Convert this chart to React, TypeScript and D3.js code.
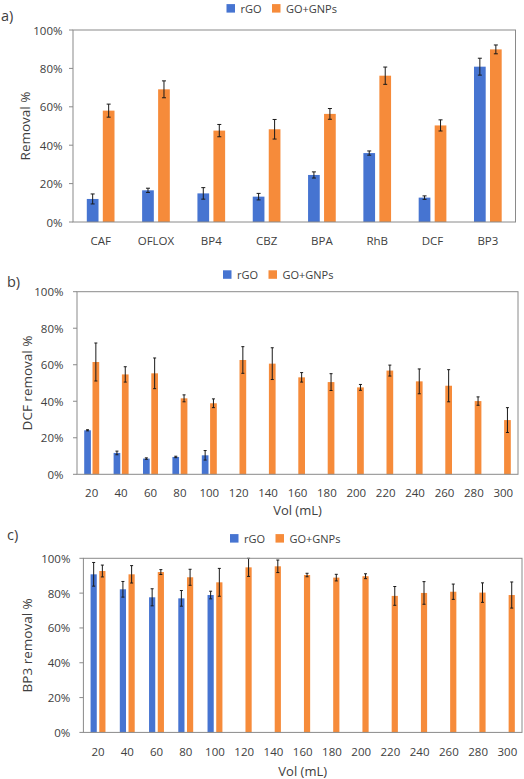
import React from "react";
import * as d3 from "d3";

// ---------- Data ----------
const catsA = ["CAF", "OFLOX", "BP4", "CBZ", "BPA", "RhB", "DCF", "BP3"];
const rgoA = [12.0, 16.5, 14.9, 13.2, 24.5, 35.9, 12.7, 80.9];
const rgoAErr = [2.6, 1.1, 3.0, 1.7, 1.6, 1.1, 0.9, 4.4];
const gnpA = [58.0, 69.1, 47.6, 48.3, 56.3, 76.2, 50.3, 89.9];
const gnpAErr = [3.4, 4.4, 3.2, 5.1, 2.8, 4.5, 2.9, 2.3];

const vols = ["20", "40", "60", "80", "100", "120", "140", "160", "180", "200", "220", "240", "260", "280", "300"];

const rgoB = [24.1, 11.7, 8.6, 9.5, 10.4];
const rgoBErr = [0.3, 1.0, 0.4, 0.4, 2.6];
const gnpB = [61.5, 54.7, 55.3, 41.6, 38.9, 62.6, 60.6, 53.1, 50.5, 47.6, 56.8, 50.9, 48.5, 40.1, 29.7];
const gnpBErr = [10.4, 4.2, 8.4, 1.9, 2.4, 7.3, 8.7, 2.6, 4.6, 1.6, 3.0, 6.8, 8.8, 2.3, 6.8];

const rgoC = [90.8, 82.2, 77.6, 77.0, 78.9];
const rgoCErr = [6.8, 4.5, 4.9, 4.5, 2.2];
const gnpC = [92.7, 90.8, 92.1, 89.1, 86.2, 94.8, 95.4, 90.4, 88.9, 89.7, 78.4, 80.1, 80.8, 80.3, 78.9];
const gnpCErr = [3.4, 5.0, 1.4, 4.6, 8.0, 5.2, 3.6, 1.0, 1.9, 1.4, 5.4, 6.5, 4.4, 5.6, 7.5];

const yTicks = [0, 20, 40, 60, 80, 100];
const seriesNames = ["rGO", "GO+GNPs"];

// ---------- Style ----------
const BLUE = "#4674D1";
const ORANGE = "#F68B3A";
const TEXT = "#404040";
const AXIS = "#8a8a8a";
const FONT = "'Open Sans', 'Liberation Sans', sans-serif";

type PanelProps = {
  tag: string;
  tagX: number;
  tagY: number;
  legendX: number;
  legendY: number;
  x0: number;
  x1: number;
  yZero: number;
  yFull: number;
  barW: number;
  gap: number;
  cats: string[];
  blue: number[];
  blueErr: number[];
  orange: number[];
  orangeErr: number[];
  yTitle: string;
  yTitleX: number;
  tickOffset: number;
  xLabelY: number;
  xTitle?: string;
  xTitleY?: number;
  capW: number;
};

function Panel(p: PanelProps) {
  const x = d3.scaleBand<string>().domain(p.cats).range([p.x0, p.x1]).padding(0);
  const y = d3.scaleLinear().domain([0, 100]).range([p.yZero, p.yFull]);
  const center = (c: string) => (x(c) as number) + x.bandwidth() / 2;

  const errBar = (cx: number, v: number, e: number, key: string) => {
    const top = y(Math.min(v + e, 100.3));
    const bot = y(v - e);
    return (
      <g key={key} stroke="#1a1a1a" strokeWidth={1}>
        <line x1={cx} x2={cx} y1={top} y2={bot} />
        <line x1={cx - p.capW / 2} x2={cx + p.capW / 2} y1={top} y2={top} />
        <line x1={cx - p.capW / 2} x2={cx + p.capW / 2} y1={bot} y2={bot} />
      </g>
    );
  };

  const plotMid = (p.yZero + p.yFull) / 2;
  const legendColors = [BLUE, ORANGE];
  const legendOffsets = [0, 45.5];

  return (
    <g fontFamily={FONT}>
      <text x={p.tagX} y={p.tagY} fontSize={14.5} fill={TEXT} dominantBaseline="central">
        {p.tag}
      </text>
      {/* legend */}
      {seriesNames.map((s, i) => (
        <g key={s} transform={`translate(${p.legendX + legendOffsets[i]},${p.legendY})`}>
          <rect x={0} y={-4.2} width={8.5} height={8.5} fill={legendColors[i]} />
          <text x={14} y={0} fontSize={11} fill={TEXT} dominantBaseline="central">
            {s}
          </text>
        </g>
      ))}
      {/* bars */}
      {p.cats.map((c, i) => {
        const cx = center(c);
        const out: any[] = [];
        if (i < p.blue.length) {
          const bx = cx - p.gap / 2 - p.barW;
          out.push(
            <rect key={"b" + c} x={bx} y={y(p.blue[i])} width={p.barW} height={y(0) - y(p.blue[i])} fill={BLUE} />
          );
        }
        if (i < p.orange.length) {
          const ox = cx + p.gap / 2;
          out.push(
            <rect key={"o" + c} x={ox} y={y(p.orange[i])} width={p.barW} height={y(0) - y(p.orange[i])} fill={ORANGE} />
          );
        }
        return <g key={c}>{out}</g>;
      })}
      {p.cats.map((c, i) => {
        const cx = center(c);
        const out: any[] = [];
        if (i < p.blue.length) out.push(errBar(cx - p.gap / 2 - p.barW / 2, p.blue[i], p.blueErr[i], "eb" + c));
        if (i < p.orange.length) out.push(errBar(cx + p.gap / 2 + p.barW / 2, p.orange[i], p.orangeErr[i], "eo" + c));
        return <g key={"e" + c}>{out}</g>;
      })}
      {/* frame */}
      <rect
        x={p.x0}
        y={p.yFull}
        width={p.x1 - p.x0}
        height={p.yZero - p.yFull}
        fill="none"
        stroke={AXIS}
        strokeWidth={1}
      />
      {/* y ticks */}
      {yTicks.map((t) => (
        <g key={t}>
          <line x1={p.x0 - 4} x2={p.x0} y1={y(t)} y2={y(t)} stroke={AXIS} />
          <text
            x={p.x0 - p.tickOffset}
            y={y(t)}
            fontSize={11.5}
            fill={TEXT}
            textAnchor="end"
            dominantBaseline="central"
          >
            {t + "%"}
          </text>
        </g>
      ))}
      {/* x labels */}
      {p.cats.map((c) => (
        <text key={"xl" + c} x={center(c)} y={p.xLabelY} fontSize={11.5} fill={TEXT} textAnchor="middle" dominantBaseline="central">
          {c}
        </text>
      ))}
      <text
        transform={`translate(${p.yTitleX},${plotMid}) rotate(-90)`}
        fontSize={13.5}
        fill={TEXT}
        textAnchor="middle"
        dominantBaseline="central"
      >
        {p.yTitle}
      </text>
      {p.xTitle && (
        <text
          x={(p.x0 + p.x1) / 2}
          y={p.xTitleY}
          fontSize={13}
          fill={TEXT}
          textAnchor="middle"
          dominantBaseline="central"
        >
          {p.xTitle}
        </text>
      )}
    </g>
  );
}

export default function App() {
  return (
    <svg
      width={524}
      height={779}
      viewBox="0 0 524 779"
      style={{ position: "absolute", left: 0, top: 0, background: "#fff" }}
    >
      <rect x={0} y={0} width={524} height={779} fill="#fff" />
      <Panel
        tag="a)"
        tagX={1}
        tagY={15}
        legendX={226.5}
        legendY={8.3}
        x0={73}
        x1={515.5}
        yZero={222}
        yFull={30}
        barW={11.7}
        gap={4.3}
        cats={catsA}
        blue={rgoA}
        blueErr={rgoAErr}
        orange={gnpA}
        orangeErr={gnpAErr}
        yTitle="Removal %"
        yTitleX={25}
        tickOffset={10.5}
        xLabelY={240}
        capW={4}
      />
      <Panel
        tag="b)"
        tagX={7}
        tagY={281}
        legendX={223}
        legendY={274.5}
        x0={77}
        x1={518}
        yZero={474.3}
        yFull={291.7}
        barW={6.7}
        gap={1.6}
        cats={vols}
        blue={rgoB}
        blueErr={rgoBErr}
        orange={gnpB}
        orangeErr={gnpBErr}
        yTitle="DCF removal %"
        yTitleX={27}
        tickOffset={13.5}
        xLabelY={492.3}
        xTitle="Vol (mL)"
        xTitleY={510}
        capW={3}
      />
      <Panel
        tag="c)"
        tagX={7}
        tagY={534}
        legendX={230}
        legendY={538.3}
        x0={83.4}
        x1={522}
        yZero={732.4}
        yFull={558.3}
        barW={6.2}
        gap={2.5}
        cats={vols}
        blue={rgoC}
        blueErr={rgoCErr}
        orange={gnpC}
        orangeErr={gnpCErr}
        yTitle="BP3 removal %"
        yTitleX={27}
        tickOffset={13}
        xLabelY={751}
        xTitle="Vol (mL)"
        xTitleY={771}
        capW={3}
      />
    </svg>
  );
}
